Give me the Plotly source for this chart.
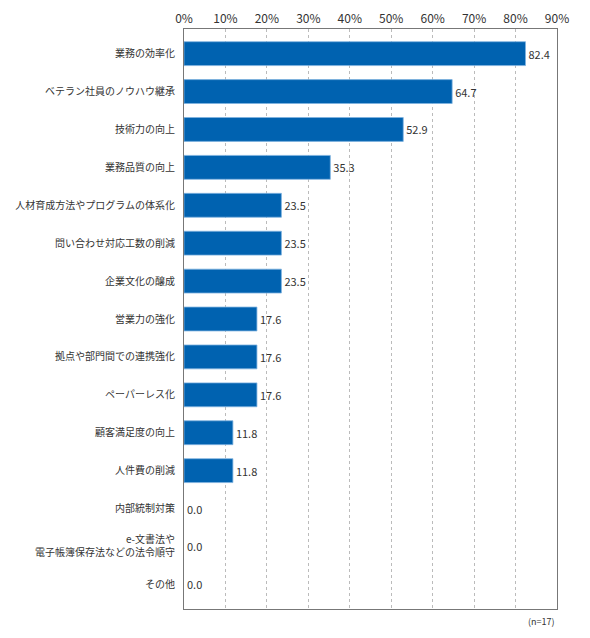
import plotly.graph_objects as go

categories = [
    "業務の効率化",
    "ベテラン社員のノウハウ継承",
    "技術力の向上",
    "業務品質の向上",
    "人材育成方法やプログラムの体系化",
    "問い合わせ対応工数の削減",
    "企業文化の醸成",
    "営業力の強化",
    "拠点や部門間での連携強化",
    "ペーパーレス化",
    "顧客満足度の向上",
    "人件費の削減",
    "内部統制対策",
    "e-文書法や<br>電子帳簿保存法などの法令順守",
    "その他",
]
values = [82.4, 64.7, 52.9, 35.3, 23.5, 23.5, 23.5, 17.6, 17.6, 17.6, 11.8, 11.8, 0.0, 0.0, 0.0]
tick_vals = [0, 10, 20, 30, 40, 50, 60, 70, 80, 90]
tick_text = [f"{v}%" for v in tick_vals]
note = "(n=17)"

FONT = "Noto Sans CJK JP"
n = len(categories)

fig = go.Figure(go.Bar(
    x=values,
    y=categories,
    orientation="h",
    width=0.63,
    marker=dict(color="#0062B0",
                line=dict(color="#7FB2E0", width=[0.8 if v > 0 else 0 for v in values])),
    text=[f"{v:.1f}" for v in values],
    textposition="outside",
    textfont=dict(size=11, color="#333333", family=FONT),
    cliponaxis=False,
))

# page body adds an 8px offset, so the figure is sized to fit the window
fig.update_layout(
    width=582, height=630,
    margin=dict(l=176, r=33, t=21, b=29),
    paper_bgcolor="white",
    plot_bgcolor="white",
    font=dict(family=FONT, color="#333333"),
    showlegend=False,
    xaxis=dict(
        range=[0, 90],
        side="top",
        automargin=False,
        tickvals=tick_vals,
        ticktext=tick_text,
        tickfont=dict(size=12, color="#333333"),
        showgrid=True,
        gridcolor="#BBBBBB",
        griddash="dot",
        gridwidth=1,
        showline=True,
        linecolor="#777777",
        linewidth=1,
        mirror=True,
        zeroline=False,
        ticks="",
    ),
    yaxis=dict(
        range=[n - 1 + 0.65, -0.65],
        automargin=False,
        tickfont=dict(size=10, color="#333333"),
        showline=True,
        linecolor="#777777",
        linewidth=1,
        mirror=True,
        showgrid=False,
        ticks="",
        ticklabelstandoff=6,
    ),
    annotations=[dict(
        text=note, x=1.0, y=0, xref="paper", yref="paper",
        xanchor="right", yanchor="top", yshift=-4, showarrow=False,
        font=dict(size=9, color="#333333"),
    )],
)

fig.write_html("out.html")
